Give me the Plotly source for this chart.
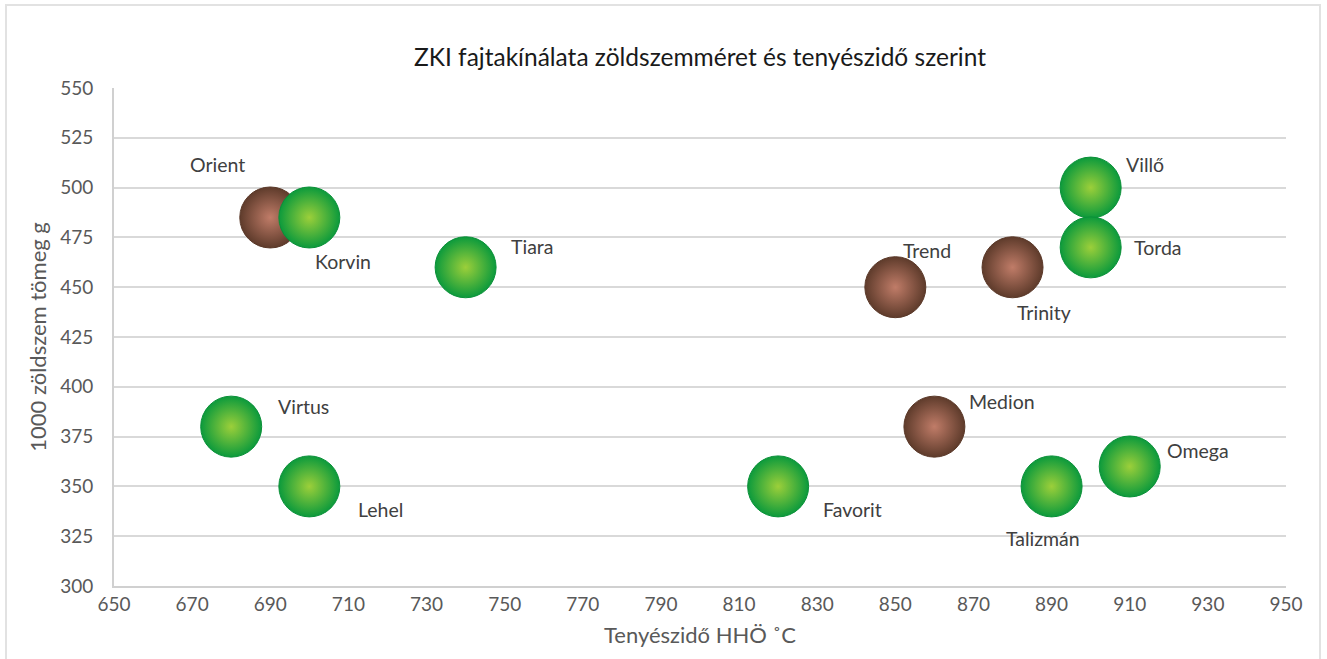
import plotly.graph_objects as go

# Data
brown_names = ["Orient", "Trend", "Trinity", "Medion"]
brown_x = [690, 850, 880, 860]
brown_y = [485, 450, 460, 380]

green_names = ["Korvin", "Tiara", "Virtus", "Lehel", "Favorit", "Villő", "Torda", "Talizmán", "Omega"]
green_x = [700, 740, 680, 700, 820, 900, 900, 890, 910]
green_y = [485, 460, 380, 350, 350, 500, 470, 350, 360]

x_ticks = list(range(650, 951, 20))
y_ticks = list(range(300, 551, 25))

# label offsets in pixels (dx right, dy down)
label_offsets = {
    "Orient": (-53, -53), "Korvin": (34, 44), "Tiara": (66, -21), "Virtus": (72, -20),
    "Lehel": (71, 23), "Favorit": (74, 23), "Trend": (32, -37), "Trinity": (31, 45),
    "Villő": (54, -23), "Torda": (67, 0), "Medion": (68, -25), "Talizmán": (-9, 52),
    "Omega": (68, -16),
}

FONT = "Lato, Open Sans, sans-serif"

fig = go.Figure()
fig.add_trace(go.Scatter(
    x=brown_x, y=brown_y, mode="markers", name="barna", text=brown_names,
    marker=dict(size=61, color="#5e3b2b",
                gradient=dict(type="radial", color="#c07c68"),
                line=dict(color="#5a3828", width=1)),
))
fig.add_trace(go.Scatter(
    x=green_x, y=green_y, mode="markers", name="zöld", text=green_names,
    marker=dict(size=61, color="#0c9a3c",
                gradient=dict(type="radial", color="#9ccf3a"),
                line=dict(color="#0a9038", width=1)),
))

annotations = []
for names, xs, ys in [(brown_names, brown_x, brown_y), (green_names, green_x, green_y)]:
    for n, xv, yv in zip(names, xs, ys):
        dx, dy = label_offsets[n]
        annotations.append(dict(x=xv, y=yv, text=n, showarrow=False,
                                xshift=dx, yshift=-dy,
                                font=dict(family=FONT, size=19.5, color="#404040")))

fig.update_layout(
    width=1327, height=659,
    margin=dict(l=114, r=41, t=88, b=73),
    paper_bgcolor="white", plot_bgcolor="white",
    showlegend=False,
    title=dict(text="ZKI fajtakínálata zöldszemméret és tenyészidő szerint",
               x=0.5, xanchor="center", y=1 - 57 / 659, yanchor="middle",
               xref="paper",
               font=dict(family=FONT, size=24.5, color="#1a1a1a")),
    annotations=annotations,
    xaxis=dict(range=[650, 950], tickvals=x_ticks, showgrid=False, zeroline=False,
               showline=True, linecolor="#d0d0d0", linewidth=2, ticks="",
               tickfont=dict(family=FONT, size=19, color="#595959"),
               title=dict(text="Tenyészidő HHÖ ˚C", standoff=14,
                          font=dict(family=FONT, size=22, color="#595959"))),
    yaxis=dict(range=[300, 550], tickvals=y_ticks, showgrid=True, gridcolor="#d9d9d9",
               gridwidth=1.5, zeroline=False,
               showline=True, linecolor="#d0d0d0", linewidth=2, ticks="",
               ticklabelstandoff=15,
               tickfont=dict(family=FONT, size=19, color="#595959"),
               title=dict(text="1000 zöldszem tömeg g", standoff=7,
                          font=dict(family=FONT, size=22, color="#595959"))),
    shapes=[dict(type="rect", xref="paper", yref="paper",
                 x0=(6 - 114) / 1172, x1=(1320 - 114) / 1172,
                 y0=-0.2, y1=(586 - 5) / 498,
                 line=dict(color="#e2e2e2", width=2), layer="below")],
)

fig.write_html("out.html", config={"displayModeBar": False},
               post_script="document.body.style.margin='0';")
